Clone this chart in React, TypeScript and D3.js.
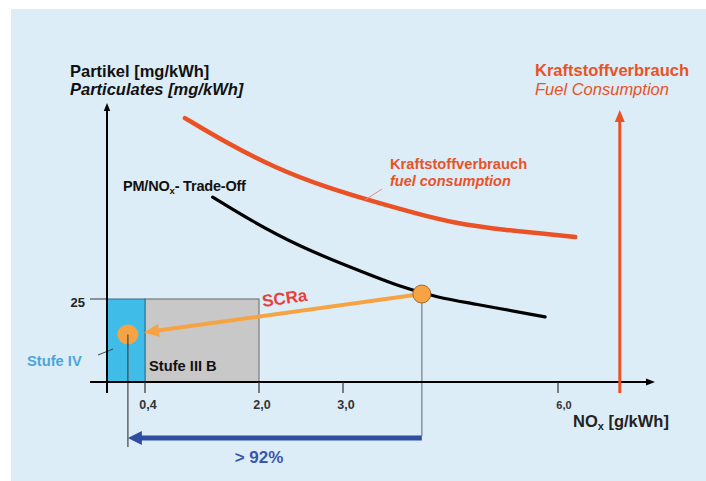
import React from 'react';
import * as d3 from 'd3';

// NOx ticks (the original axis is schematic, so the scale is piecewise)
const xTicks = [0.4, 2.0, 3.0, 6.0];
const xTickLabels = ['0,4', '2,0', '3,0', '6,0'];
const yTicks = [25];

// PM/NOx trade-off curve [NOx, PM]
const tradeOffNox = [1.35, 1.87, 2.49, 3.1, 3.8, 4.35, 4.77, 5.82];
const tradeOffPm = [55.7, 48.8, 40.7, 34.6, 28.6, 25.3, 23.8, 19.6];

// fuel consumption curve [NOx, level]
const fuelNox = [0.96, 1.52, 2.19, 2.79, 3.45, 4.0, 4.54, 5.23, 6.24];
const fuelLevel = [79.5, 72.3, 64.5, 58.7, 54.2, 50.9, 47.9, 45.8, 43.7];

// emission limits
const stages = ['Stufe IV', 'Stufe III B'];
const stageNox = [0.4, 2.0];
const stagePm = [25, 25];

// SCR operating points: engine out -> after SCR
const scrNox = [4.1, 0.22];
const scrPm = [26.5, 14.3];

const fuelAxisNox = 6.86;

const W = 706;
const H = 481;
const FONT = '"Liberation Sans", Arial, sans-serif';

const x = d3.scaleLinear()
  .domain([0, 0.4, 2, 3, 6, 7.35])
  .range([107, 145, 259, 343, 558, 655]);

const y = d3.scaleLinear()
  .domain([0, 25])
  .range([382, 299]);

const line = d3.line<[number, number]>()
  .x(d => x(d[0]))
  .y(d => y(d[1]))
  .curve(d3.curveBasis);

// arrow head polygon at (tx,ty) pointing away from (fx,fy)
const head = (fx: number, fy: number, tx: number, ty: number, len: number, half: number) => {
  const a = Math.atan2(ty - fy, tx - fx);
  const bx = tx - len * Math.cos(a);
  const by = ty - len * Math.sin(a);
  const px = -Math.sin(a) * half;
  const py = Math.cos(a) * half;
  return `${tx},${ty} ${bx + px},${by + py} ${bx - px},${by - py}`;
};

const App = () => {
  const x0 = x(0);
  const y0 = y(0);
  const yTop = 103;
  const xEnd = 655;

  const [ex, ey] = [x(scrNox[0]), y(scrPm[0])];
  const [sx, sy] = [x(scrNox[1]), y(scrPm[1])];
  const scrTipX = x(stageNox[0]) - 1;
  const scrTipY = sy - 2;

  const fuelX = x(fuelAxisNox);
  const reductionY = 438;

  const tradeOff = tradeOffNox.map((n, i) => [n, tradeOffPm[i]] as [number, number]);
  const fuel = fuelNox.map((n, i) => [n, fuelLevel[i]] as [number, number]);

  return (
    <div style={{ position: 'fixed', left: 0, top: 0 }}>
      <svg width={W} height={H} style={{ display: 'block', fontFamily: FONT }}>
        <rect x={0} y={0} width={W} height={H} fill="#ffffff" />
        <rect x={11} y={9} width={W - 11} height={H - 9} fill="#dcedf8" />

        {/* limit boxes */}
        <rect x={x(stageNox[0])} y={y(stagePm[1])} width={x(stageNox[1]) - x(stageNox[0])}
          height={y0 - y(stagePm[1])} fill="#c8c8c8" stroke="#7a7a7a" strokeWidth={1.2} />
        <rect x={x0} y={y(stagePm[0])} width={x(stageNox[0]) - x0}
          height={y0 - y(stagePm[0])} fill="#3fbde8" stroke="#2a6f90" strokeWidth={1} />

        {/* y ticks */}
        {yTicks.map(t => (
          <g key={t}>
            <line x1={90} x2={x0} y1={y(t)} y2={y(t)} stroke="#555" strokeWidth={1.2} />
            <text x={85} y={y(t) + 7.5} textAnchor="end" fontSize={13} fontWeight="bold" fill="#222">{t}</text>
          </g>
        ))}

        {/* curves */}
        <path d={line(fuel) || ''} fill="none" stroke="#ea5226" strokeWidth={4.5} strokeLinecap="round" />
        <path d={line(tradeOff) || ''} fill="none" stroke="#000" strokeWidth={3.2} strokeLinecap="round" />

        {/* leaders */}
        <line x1={382} y1={189} x2={365} y2={200} stroke="#e88a80" strokeWidth={1} />
        <line x1={98} y1={355} x2={113} y2={349} stroke="#444" strokeWidth={1} />

        {/* drop lines */}
        <line x1={ex} x2={ex} y1={ey} y2={reductionY - 2} stroke="#8e9aa4" strokeWidth={1.6} />
        <line x1={sx} x2={sx} y1={sy} y2={447} stroke="#444" strokeWidth={1.2} />

        {/* axes */}
        <line x1={x0} x2={x0} y1={393} y2={yTop + 6} stroke="#000" strokeWidth={2} />
        <polygon points={head(x0, 393, x0, yTop, 8, 3.2)} fill="#000" />
        <line x1={90} x2={xEnd - 6} y1={y0} y2={y0} stroke="#000" strokeWidth={2} />
        <polygon points={head(90, y0, xEnd, y0, 9, 3.5)} fill="#000" />

        {/* x ticks */}
        {xTicks.map((t, i) => (
          <g key={t}>
            <line x1={x(t)} x2={x(t)} y1={y0} y2={393} stroke="#333" strokeWidth={1.2} />
            <text x={x(t) + (t === 6 ? 6 : 3)} y={409} textAnchor="middle"
              fontSize={t === 6 ? 11 : 12.5} fontWeight="bold" fill="#333">{xTickLabels[i]}</text>
          </g>
        ))}

        {/* fuel consumption axis */}
        <line x1={fuelX} x2={fuelX} y1={393} y2={120} stroke="#ea5226" strokeWidth={3} />
        <polygon points={head(fuelX, 393, fuelX, 110, 12, 5)} fill="#ea5226" />

        {/* SCR arrow */}
        <line x1={ex} y1={ey} x2={scrTipX + 12} y2={scrTipY - 1.7} stroke="#f6a443" strokeWidth={4} />
        <polygon points={head(ex, ey, scrTipX, scrTipY, 15, 6.5)} fill="#f6a443" />
        <ellipse cx={sx} cy={sy} rx={10.5} ry={10} fill="#f6a443" />
        <line x1={sx} x2={sx} y1={sy} y2={sy + 11} stroke="#444" strokeWidth={1.2} />
        <circle cx={ex} cy={ey} r={9} fill="#f6a443" stroke="#a06a25" strokeWidth={1} />

        {/* reduction arrow */}
        <line x1={ex} x2={sx + 12} y1={reductionY} y2={reductionY} stroke="#2f4ea0" strokeWidth={5} />
        <polygon points={head(ex, reductionY, sx, reductionY, 14, 7)} fill="#2f4ea0" />
        <text x={259} y={463} textAnchor="middle" fontSize={17} fontWeight="bold" fill="#3a56a8">&gt; 92%</text>

        {/* labels */}
        <text x={70} y={77} fontSize={16.5} fontWeight="bold" fill="#111">Partikel [mg/kWh]</text>
        <text x={70} y={95} fontSize={16.5} fontWeight="bold" fontStyle="italic" fill="#111">Particulates [mg/kWh]</text>

        <text x={535} y={76} fontSize={16.5} fontWeight="bold" fill="#ea5226">Kraftstoffverbrauch</text>
        <text x={535} y={95} fontSize={16.5} fontStyle="italic" fill="#ea5226">Fuel Consumption</text>

        <text x={390} y={169} fontSize={14.7} fontWeight="bold" fill="#ea5226">Kraftstoffverbrauch</text>
        <text x={390} y={186} fontSize={14.5} fontWeight="bold" fontStyle="italic" fill="#ea5226">fuel consumption</text>

        <text x={123} y={191} fontSize={14.5} fontWeight="bold" fill="#111" letterSpacing={-0.2}>
          PM/NO<tspan fontSize={9.5} dy={3}>x</tspan><tspan dy={-3}>- Trade-Off</tspan>
        </text>

        <text x={263} y={307} fontSize={17} fontWeight="bold" fill="#e8403a"
          transform="rotate(-8 263 307)">SCRa</text>

        <text x={27} y={366} fontSize={14.7} fontWeight="bold" fill="#4aa6da">{stages[0]}</text>
        <text x={149} y={371} fontSize={14.7} fontWeight="bold" fill="#111">{stages[1]}</text>

        <text x={573} y={427} fontSize={16.5} fontWeight="bold" fill="#222">
          NO<tspan fontSize={11} dy={3}>x</tspan><tspan dy={-3}> [g/kWh]</tspan>
        </text>
      </svg>
    </div>
  );
};

export default App;
